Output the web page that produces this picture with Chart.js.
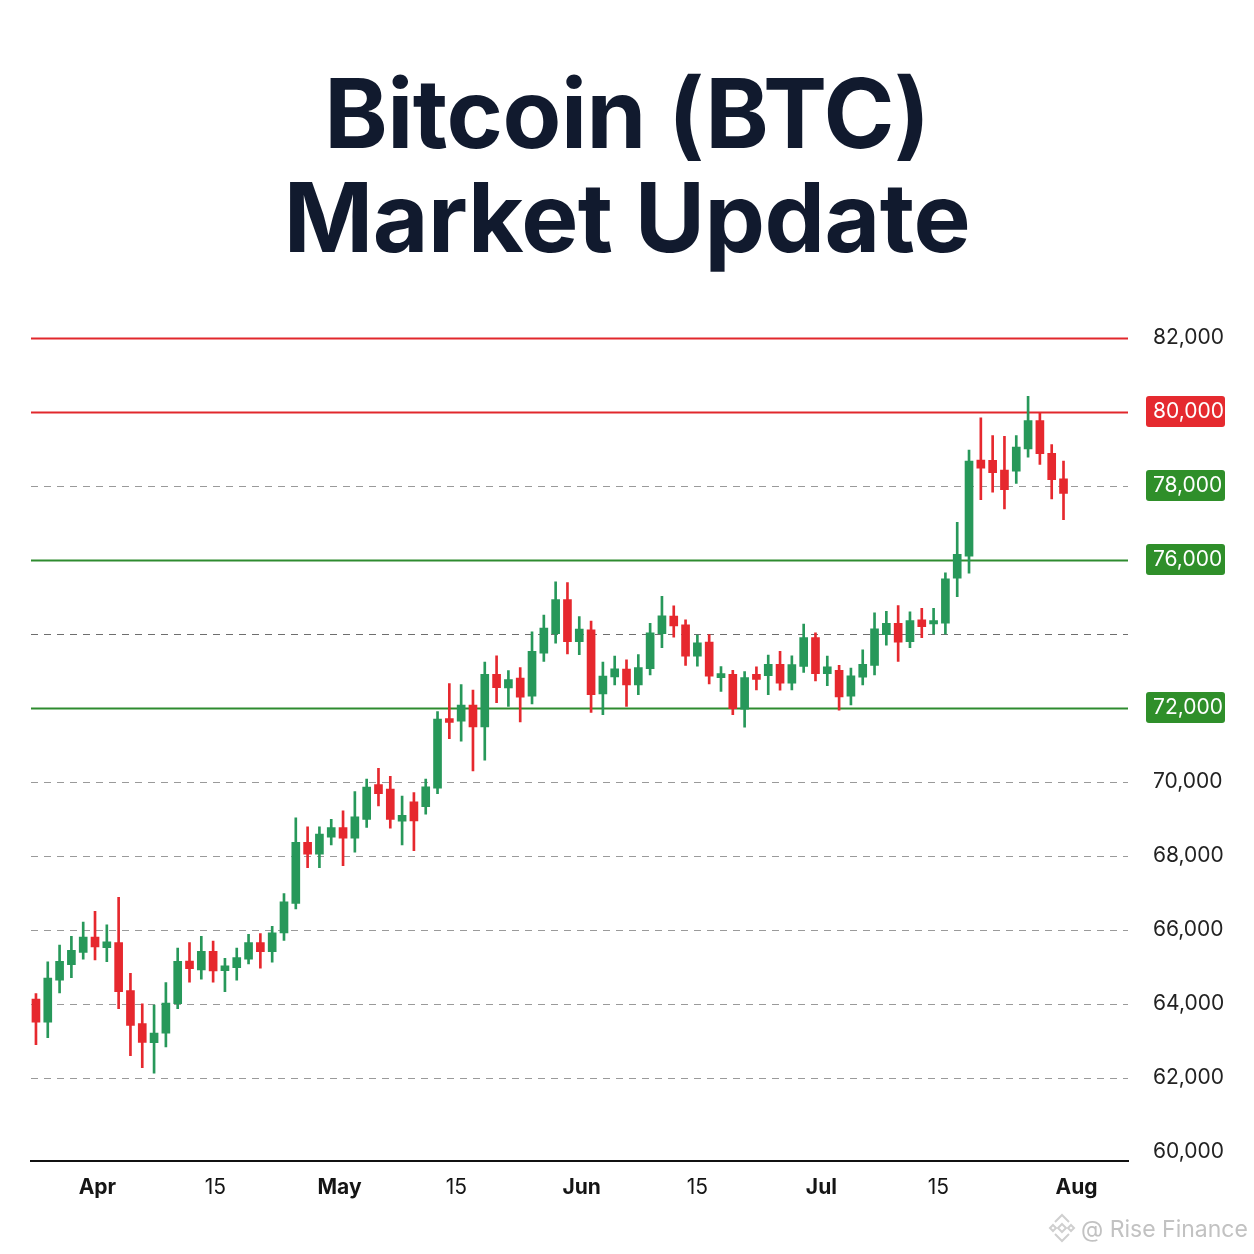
<!DOCTYPE html>
<html>
<head>
<meta charset="utf-8">
<title>Bitcoin (BTC) Market Update</title>
<script src="https://cdn.jsdelivr.net/npm/chart.js@4.4.1/dist/chart.umd.min.js"></script>
<style>
  html, body { margin: 0; padding: 0; background: #fff; }
  #page { width: 1254px; height: 1254px; position: relative; overflow: hidden; }
  h1 {
    margin: 61px 0 0 0;
    font-family: Inter, "Noto Sans", sans-serif;
    font-weight: 700;
    font-size: 96px;
    line-height: 104px;
    color: #111a2e;
    text-align: center;
    letter-spacing: -0.5px;
  }
  #chartBox { position: absolute; left: 0; top: 300px; width: 1254px; height: 954px; }
</style>
</head>
<body>
<div id="page">
  <h1>Bitcoin (BTC)<br>Market Update</h1>
  <div id="chartBox"><canvas id="btcChart" width="1254" height="954"></canvas></div>
</div>
<script>
// daily-ish candles (index = candle number)
const opens = [64120, 63500, 64630, 65050, 65380, 65800, 65510, 65650, 64350, 63460,
  62940, 63200, 64000, 65150, 64910, 65410, 64890, 64970, 65200, 65650,
  65400, 65910, 66710, 68360, 68040, 68500, 68760, 68470, 68980, 69920,
  69800, 68930, 69450, 69320, 69820, 71700, 71630, 72070, 71480, 72900,
  72530, 72800, 72310, 73470, 74000, 74920, 73780, 74100, 72370, 72830,
  73040, 72610, 73050, 74000, 74470, 74240, 73390, 73770, 72810, 72900,
  71960, 72900, 72860, 73170, 72660, 73110, 73890, 72920, 73010, 72310,
  72820, 73140, 73970, 74280, 73780, 74370, 74260, 74280, 75500, 76090,
  78690, 78680, 78420, 78390, 78990, 79760, 78870, 78180];
const highs = [64270, 65130, 65580, 65820, 66200, 66490, 66130, 66870, 64820, 63990,
  63960, 64570, 65500, 65650, 65820, 65690, 65220, 65500, 65870, 65890,
  66090, 66970, 69020, 68780, 68780, 68980, 69210, 69730, 70070, 70360,
  70140, 69610, 69700, 70070, 71890, 72650, 72620, 72470, 73230, 73400,
  73000, 73080, 74050, 74500, 75400, 75380, 74460, 74340, 73230, 73390,
  73290, 73430, 74280, 75010, 74750, 74370, 73960, 73970, 73110, 73010,
  72970, 73100, 73420, 73520, 73400, 74260, 74020, 73390, 73140, 73070,
  73560, 74560, 74600, 74760, 74590, 74680, 74680, 75640, 77010, 78960,
  79830, 79350, 79330, 79350, 80410, 79980, 79110, 78660];
const lows = [62890, 63080, 64290, 64700, 65200, 65180, 65130, 63860, 62590, 62270,
  62120, 62830, 63860, 64580, 64660, 64580, 64320, 64630, 65070, 64960,
  65120, 65710, 66560, 67670, 67670, 68290, 67730, 68090, 68760, 69340,
  68740, 68290, 68130, 69120, 69670, 71160, 71090, 70290, 70580, 72130,
  72030, 71610, 72100, 73250, 73740, 73450, 73430, 71870, 71810, 72610,
  72030, 72350, 72880, 73620, 73900, 73140, 73120, 72640, 72440, 71810,
  71470, 72480, 72350, 72470, 72480, 72950, 72720, 72590, 71930, 72070,
  72610, 72880, 73690, 73250, 73620, 73890, 73990, 73990, 75000, 75630,
  77620, 77820, 77370, 78060, 78770, 78570, 77640, 77080];
const closes = [63500, 64690, 65140, 65440, 65800, 65530, 65670, 64320, 63410, 62950,
  63200, 64010, 65140, 64940, 65410, 64880, 65020, 65240, 65650, 65400,
  65910, 66750, 68360, 68040, 68580, 68760, 68470, 69050, 69850, 69670,
  68980, 69090, 68940, 69860, 71690, 71600, 72070, 71480, 72900, 72540,
  72760, 72280, 73520, 74150, 74920, 73780, 74120, 72350, 72850, 73050,
  72610, 73080, 74020, 74480, 74210, 73390, 73750, 72850, 72920, 71970,
  72810, 72760, 73170, 72660, 73160, 73890, 72920, 73100, 72290, 72860,
  73170, 74130, 74280, 73770, 74350, 74190, 74350, 75480, 76140, 78660,
  78470, 78350, 77890, 79040, 79760, 78860, 78160, 77790];

// axis ticks
const xTickPos = [5.2, 15.2, 25.7, 35.6, 46.2, 56.0, 66.5, 76.4, 88.1];
const xTickLabels = ['Apr', '15', 'May', '15', 'Jun', '15', 'Jul', '15', 'Aug'];
const yTickValues = [60000, 62000, 64000, 66000, 68000, 70000, 72000, 76000, 78000, 80000, 82000];

// key levels
const gridLevels = [62000, 64000, 66000, 68000, 70000, 74000, 78000];
const resistanceLevels = [82000, 80000];
const supportLevels = [76000, 72000];
const redBadges = [80000];
const greenBadges = [78000, 76000, 72000];

const UP = '#27985a';
const DOWN = '#e6282e';
const RED_LINE = '#e1282c';
const GREEN_LINE = '#2e8b2f';
const BADGE_GREEN = '#2f8f2a';
const BADGE_RED = '#e52a2f';

const idx = opens.map((_, i) => i);
const candleColor = ctx => closes[ctx.dataIndex] >= opens[ctx.dataIndex] ? UP : DOWN;

const levelLines = {
  id: 'levelLines',
  beforeDraw(chart) {
    // badges behind the y labels
    const { ctx, scales: { y } } = chart;
    const drawBadge = (v, color) => {
      const cy = y.getPixelForValue(v);
      ctx.save();
      ctx.fillStyle = color;
      ctx.beginPath();
      ctx.roundRect(1146, cy - 15.5, 79, 31, 3);
      ctx.fill();
      ctx.restore();
    };
    redBadges.forEach(v => drawBadge(v, BADGE_RED));
    greenBadges.forEach(v => drawBadge(v, BADGE_GREEN));
  },
  beforeDatasetsDraw(chart) {
    const { ctx, chartArea: a, scales: { y } } = chart;
    const hline = (v, color, width, dash) => {
      const py = Math.round(y.getPixelForValue(v)) + 0.5;
      ctx.save();
      ctx.strokeStyle = color;
      ctx.lineWidth = width;
      ctx.setLineDash(dash);
      ctx.beginPath();
      ctx.moveTo(a.left, py);
      ctx.lineTo(a.right, py);
      ctx.stroke();
      ctx.restore();
    };
    gridLevels.forEach(v => hline(v, v === 74000 ? '#6e6e6e' : '#9a9a9a', 1.2, [7, 6]));
    resistanceLevels.forEach(v => hline(v, RED_LINE, 2, []));
    supportLevels.forEach(v => hline(v, GREEN_LINE, 2, []));
  },
  afterDraw(chart) {
    // watermark
    const { ctx } = chart;
    const cx = 1062, cy = 928;
    ctx.save();
    ctx.strokeStyle = '#cfcfcf';
    ctx.lineWidth = 2;
    const dia = (x, yy, r) => {
      ctx.beginPath();
      ctx.moveTo(x, yy - r); ctx.lineTo(x + r, yy); ctx.lineTo(x, yy + r); ctx.lineTo(x - r, yy);
      ctx.closePath(); ctx.stroke();
    };
    dia(cx, cy, 4);
    dia(cx - 9, cy, 3);
    dia(cx + 9, cy, 3);
    ctx.beginPath();
    ctx.moveTo(cx - 7, cy - 6); ctx.lineTo(cx, cy - 13); ctx.lineTo(cx + 7, cy - 6);
    ctx.moveTo(cx - 7, cy + 6); ctx.lineTo(cx, cy + 13); ctx.lineTo(cx + 7, cy + 6);
    ctx.stroke();
    ctx.fillStyle = '#c2c2c2';
    ctx.font = '23px Inter, "Noto Sans", sans-serif';
    ctx.textBaseline = 'alphabetic';
    ctx.fillText('@ Rise Finance', 1081, 937);
    ctx.restore();
  }
};

new Chart(document.getElementById('btcChart'), {
  type: 'bar',
  data: {
    datasets: [
      {
        label: 'wick',
        data: idx.map(i => ({ x: i, y: [lows[i], highs[i]] })),
        backgroundColor: candleColor,
        barThickness: 2,
        grouped: false,
        order: 2
      },
      {
        label: 'body',
        data: idx.map(i => ({ x: i, y: [opens[i], closes[i]] })),
        backgroundColor: candleColor,
        barThickness: 8,
        grouped: false,
        minBarLength: 2,
        order: 1
      }
    ]
  },
  options: {
    responsive: false,
    animation: false,
    devicePixelRatio: 1,
    layout: { padding: { left: 31, right: 0, top: 36.6, bottom: 0 } },
    plugins: {
      legend: { display: false },
      tooltip: { enabled: false },
      title: { display: false }
    },
    scales: {
      x: {
        type: 'linear',
        offset: false,
        min: -0.42,
        max: 92.46,
        grid: { display: false, drawTicks: false, offset: false },
        border: { display: true, color: '#111111', width: 2 },
        afterBuildTicks: s => { s.ticks = xTickPos.map(v => ({ value: v })); },
        afterFit: s => { s.height = 93; },
        ticks: {
          autoSkip: false,
          maxRotation: 0,
          padding: 14,
          color: '#151515',
          font: ctx => ({
            family: 'Inter, "Noto Sans", sans-serif',
            size: 21,
            weight: ctx.index % 2 === 0 ? 'bold' : 'normal'
          }),
          callback: (v, i) => xTickLabels[i]
        }
      },
      y: {
        type: 'linear',
        position: 'right',
        min: 59745,
        max: 82000,
        grid: { display: false, drawTicks: false },
        border: { display: false },
        afterBuildTicks: s => { s.ticks = yTickValues.map(v => ({ value: v })); },
        afterFit: s => { s.width = 126; },
        ticks: {
          padding: 25,
          font: { family: 'Inter, "Noto Sans", sans-serif', size: 21 },
          color: ctx => (redBadges.includes(ctx.tick.value) || greenBadges.includes(ctx.tick.value)) ? '#ffffff' : '#222222',
          callback: v => v.toLocaleString('en-US')
        }
      }
    }
  },
  plugins: [levelLines]
});
</script>
</body>
</html>
